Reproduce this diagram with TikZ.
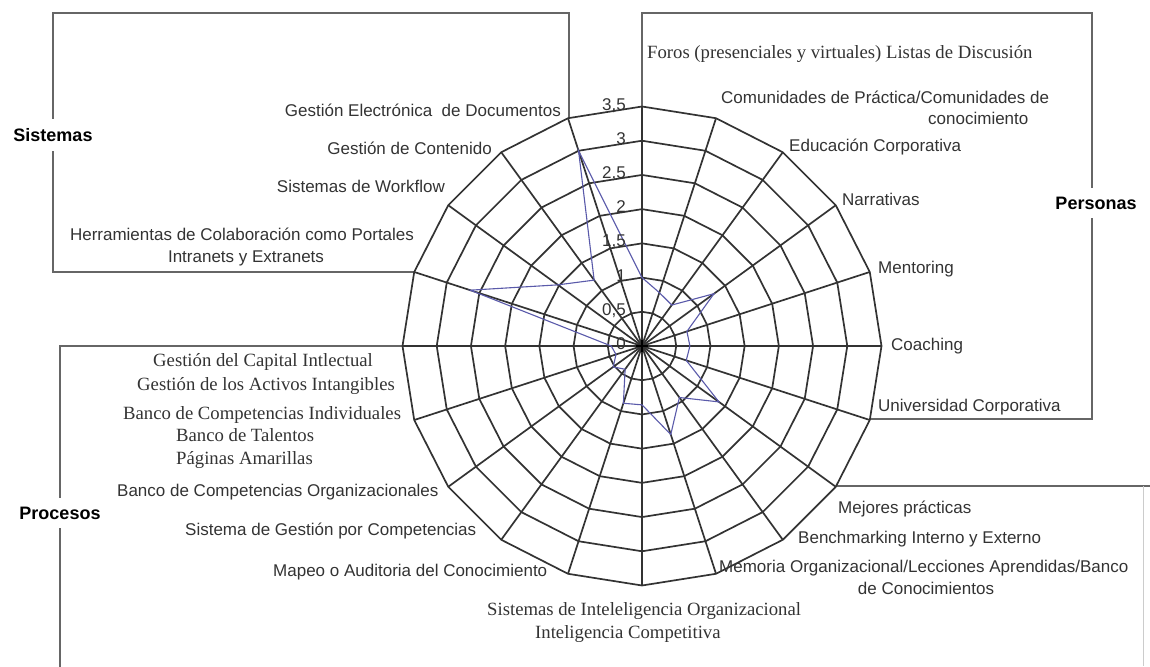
\documentclass[tikz,border=0pt]{standalone}
\usepackage{fontspec}
\setmainfont{Liberation Serif}
\setsansfont{Liberation Sans}
\definecolor{dataline}{RGB}{90,90,170}
\begin{document}
\begin{tikzpicture}[x=1pt,y=-1pt,
  grid/.style={draw=black!80,line width=1.7pt,line join=round},
  frame/.style={draw=black!60,line width=1.6pt},
  data/.style={draw=dataline,line width=1.1pt},
  sl/.style={font=\sffamily\fontsize{17}{19}\selectfont,text=black!80,inner sep=0pt,text height=0.72em,text depth=0pt},
  sr/.style={font=\rmfamily\fontsize{18.7}{21}\selectfont,text=black!80,inner sep=0pt,text height=0.66em,text depth=0pt},
  title/.style={font=\sffamily\bfseries\fontsize{18}{20}\selectfont,fill=white,inner xsep=2pt,inner ysep=9pt},
  tick/.style={font=\sffamily\fontsize{17}{19}\selectfont,text=black!80,inner sep=0pt,text height=0.72em,text depth=0pt,anchor=east}]
\useasboundingbox (0,0) rectangle (1150,666);
% frames
\draw[frame] (53,13) rectangle (569,272);
\draw[frame] (642,13) rectangle (1092,419);
\draw[frame] (402,346) -- (60,346) -- (60,670);
\draw[frame] (836,486) -- (1150,486);
\draw[draw=black!20,line width=1pt] (1143,486) -- (1143,666);
% radar chart
\begin{scope}[shift={(642,346)}]
  \fill[white] ({-90}:{239.5}) \foreach \k in {1,...,19} { -- ({18*\k-90}:{239.5}) } -- cycle;
  \foreach \i in {1,...,7}
    \draw[grid] ({-90}:{\i*34.214}) \foreach \k in {1,...,19} { -- ({18*\k-90}:{\i*34.214}) } -- cycle;
  \foreach \k in {0,...,19}
    \draw[grid] (0,0) -- ({18*\k-90}:{239.5});
  \draw[data] ({-90}:{1.0*68.43})
    \foreach \k/\v in {1/0.82,2/0.74,3/1.3,4/0.69,5/0.7,6/0.68,7/1.39,8/0.93,9/1.36,10/0.86,11/0.88,12/0.42,13/0.52,14/0.4,15/0.45,16/2.64,17/1.52,18/1.19,19/3.0}
    { -- ({18*\k-90}:{\v*68.43}) } -- cycle;
  \draw[line width=1.8pt] (-6,0) -- (6,0) (0,-6) -- (0,6);
\end{scope}
% tick labels
\foreach \i/\t in {0/0,1/{0,5},2/1,3/{1,5},4/2,5/{2,5},6/3,7/{3,5}}
  \node[tick] (tick\i) at (626,{346-\i*34.214}) {\t};
% titles
\node[title] (tSis) at (53,135) {Sistemas};
\node[title] (tPer) at (1096,203) {Personas};
\node[title] (tPro) at (60,513) {Procesos};
% Sistemas labels
\node[sl,anchor=east] (l19) at (561,113) {Gestión Electrónica~ de Documentos};
\node[sl,anchor=east] (l18) at (492,151) {Gestión de Contenido};
\node[sl,anchor=east] (l17) at (445,189) {Sistemas de Workflow};
\node[sl] (l16a) at (242,237) {Herramientas de Colaboración como Portales};
\node[sl] (l16b) at (246,259) {Intranets y Extranets};
% Personas labels
\node[sr,anchor=west] (l0) at (647,55) {Foros (presenciales y virtuales) Listas de Discusión};
\node[sl,anchor=west] (l1a) at (721,100) {Comunidades de Práctica/Comunidades de};
\node[sl,anchor=west] (l1b) at (928,121) {conocimiento};
\node[sl,anchor=west] (l2) at (789,148) {Educación Corporativa};
\node[sl,anchor=west] (l3) at (842,202) {Narrativas};
\node[sl,anchor=west] (l4) at (878,270) {Mentoring};
\node[sl,anchor=west] (l5) at (891,347) {Coaching};
\node[sl,anchor=west] (l6) at (878,408) {Universidad Corporativa};
% lower right labels
\node[sl,anchor=west] (l7) at (838,510) {Mejores prácticas};
\node[sl,anchor=west] (l8) at (798,540) {Benchmarking Interno y Externo};
\node[sl,anchor=west] (l9a) at (719,569) {Memoria Organizacional/Lecciones Aprendidas/Banco};
\node[sl] (l9b) at (926,591) {de Conocimientos};
% Procesos labels
\node[sr,anchor=west] (l10a) at (487,612) {Sistemas de Inteleligencia Organizacional};
\node[sr,anchor=west] (l10b) at (535,635) {Inteligencia Competitiva};
\node[sl,anchor=west] (l11) at (273,573) {Mapeo o Auditoria del Conocimiento};
\node[sl,anchor=west] (l12) at (185,532) {Sistema de Gestión por Competencias};
\node[sl,anchor=west] (l13) at (117,493) {Banco de Competencias Organizacionales};
\node[sr,anchor=west] (l14a) at (123,416) {Banco de Competencias Individuales};
\node[sr,anchor=west] (l14b) at (176,438) {Banco de Talentos};
\node[sr,anchor=west] (l14c) at (176,461) {Páginas Amarillas};
\node[sr,anchor=west] (l15a) at (153,363) {Gestión del Capital Intlectual};
\node[sr,anchor=west] (l15b) at (137,387) {Gestión de los Activos Intangibles};
\end{tikzpicture}
\end{document}
